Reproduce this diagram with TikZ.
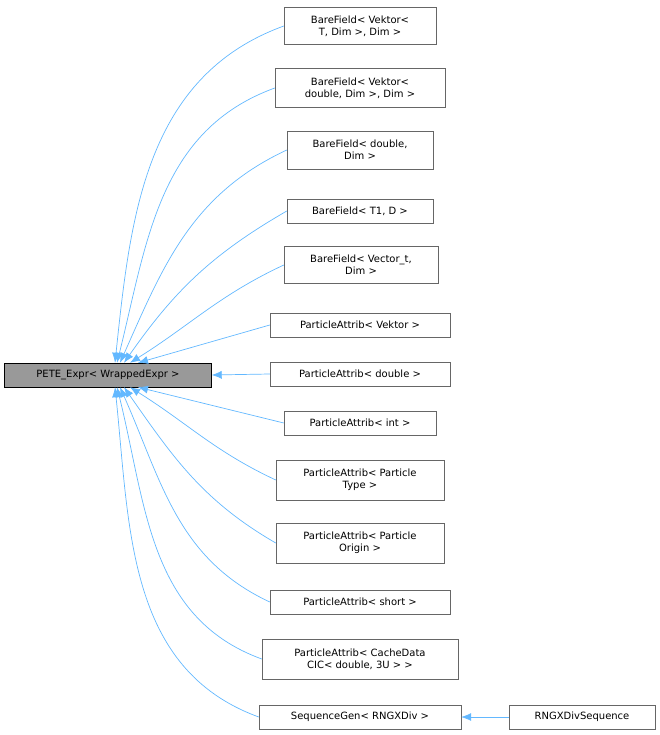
\documentclass[tikz,border=0pt]{standalone}
\usepackage{fontspec}
\setmainfont{DejaVu Sans}
\usetikzlibrary{arrows.meta}
\definecolor{edgeblue}{RGB}{99,184,255}
\definecolor{basegray}{RGB}{153,153,153}
\definecolor{boxgray}{RGB}{102,102,102}
\tikzset{
	cls/.style={rectangle, draw=boxgray, fill=white, align=center, inner sep=2pt, font=\fontsize{10}{12}\selectfont, minimum height=24pt},
	basecls/.style={cls, fill=basegray, draw=black},
	edge/.style={draw=edgeblue, -{Latex[length=10pt,width=8pt,fill=edgeblue]}, line width=0.7pt},
}
\begin{document}
\begin{tikzpicture}[x=1pt, y=-1pt]
	\useasboundingbox (0,0) rectangle (660,735);
	\node[basecls, minimum width=207pt] (pete) at (108,375) {PETE\_Expr< WrappedExpr >};
	
	\node[cls, minimum width=152pt, minimum height=37pt] (bf1) at (360,26) {BareField< Vektor<\\T, Dim >, Dim >};
	\node[cls, minimum width=170pt, minimum height=39pt] (bf2) at (360,88) {BareField< Vektor<\\double, Dim >, Dim >};
	\node[cls, minimum width=146pt, minimum height=38pt] (bf3) at (360,150) {BareField< double,\\Dim >};
	\node[cls, minimum width=146pt] (bf4) at (360,211) {BareField< T1, D >};
	\node[cls, minimum width=154pt, minimum height=37pt] (bf5) at (361,265) {BareField< Vector\_t,\\Dim >};
	\node[cls, minimum width=180pt] (pa1) at (360,325) {ParticleAttrib< Vektor >};
	\node[cls, minimum width=180pt] (pa2) at (360,374) {ParticleAttrib< double >};
	\node[cls, minimum width=152pt] (pa3) at (360,423) {ParticleAttrib< int >};
	\node[cls, minimum width=168pt, minimum height=40pt] (pa4) at (360,480) {ParticleAttrib< Particle\\Type >};
	\node[cls, minimum width=168pt, minimum height=40pt] (pa5) at (360,543) {ParticleAttrib< Particle\\Origin >};
	\node[cls, minimum width=180pt] (pa6) at (360,602) {ParticleAttrib< short >};
	\node[cls, minimum width=196pt, minimum height=40pt] (pa7) at (360,659) {ParticleAttrib< CacheData\\CIC< double, 3U > >};
	\node[cls, minimum width=202pt] (seq) at (360,717) {SequenceGen< RNGXDiv >};
	\node[cls, minimum width=146pt] (rng) at (582,717) {RNGXDivSequence};
	
	\draw[edge] (bf1.west) to[out=200, in=84] ([xshift=7pt]pete.north);
	\draw[edge] (bf2.west) to[out=200, in=76] ([xshift=9pt]pete.north);
	\draw[edge] (bf3.west) to[out=205, in=66] ([xshift=12pt]pete.north);
	\draw[edge] (bf4.west) to[out=210, in=55] ([xshift=16pt]pete.north);
	\draw[edge] (bf5.west) to[out=205, in=32] ([xshift=22pt]pete.north);
	\draw[edge] (pa1.west) -- ([xshift=30pt]pete.north);
	\draw[edge] (pa2.west) -- (pete.east);
	\draw[edge] (pa3.west) -- ([xshift=30pt]pete.south);
	\draw[edge] (pa4.west) to[out=155, in=-32] ([xshift=22pt]pete.south);
	\draw[edge] (pa5.west) to[out=150, in=-55] ([xshift=16pt]pete.south);
	\draw[edge] (pa6.west) to[out=155, in=-66] ([xshift=12pt]pete.south);
	\draw[edge] (pa7.west) to[out=160, in=-76] ([xshift=9pt]pete.south);
	\draw[edge] (seq.west) to[out=160, in=-84] ([xshift=7pt]pete.south);
	\draw[edge] (rng.west) -- (seq.east);
\end{tikzpicture}
\end{document}
